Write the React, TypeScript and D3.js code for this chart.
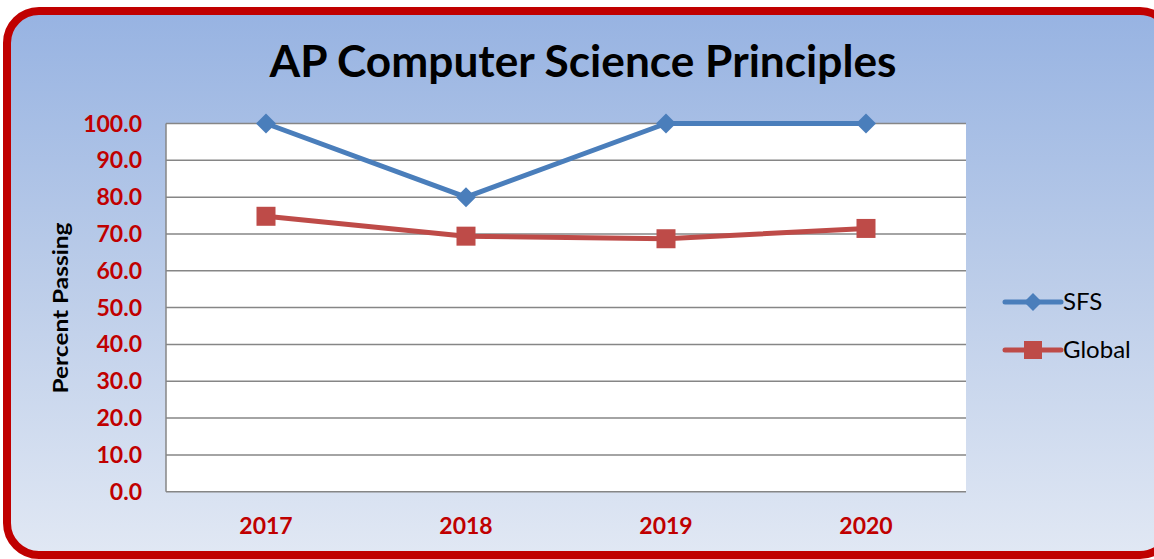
import React from "react";
import * as d3 from "d3";

const categories = ["2017", "2018", "2019", "2020"];
const sfsValues = [100, 80, 100, 100];
const globalValues = [74.8, 69.4, 68.7, 71.5];
const yTicks = [0, 10, 20, 30, 40, 50, 60, 70, 80, 90, 100];
const seriesNames = ["SFS", "Global"];

const W = 1154;
const H = 559;
const plot = { left: 166, right: 966, top: 123.5, bottom: 491.7 };
const FONT = "Lato, Carlito, 'Open Sans', sans-serif";
const RED = "#c00000";
const BLUE = "#4a7ebb";
const DRED = "#be4b48";

export default function App() {
  const x = d3.scaleBand<string>().domain(categories).range([plot.left, plot.right]);
  const y = d3.scaleLinear().domain([0, 100]).range([plot.bottom, plot.top]);
  const cx = (c: string) => (x(c) as number) + x.bandwidth() / 2;
  const line = d3
    .line<number>()
    .x((_, i) => cx(categories[i]))
    .y((d) => y(d));

  const diamond = (px: number, py: number, r: number) =>
    `M${px},${py - r}L${px + r},${py}L${px},${py + r}L${px - r},${py}Z`;

  return (
    <svg
      width={W}
      height={H}
      style={{ position: "absolute", left: 0, top: 0 }}
      fontFamily={FONT}
    >
      <defs>
        <linearGradient id="bg" x1="0" y1="0" x2="0" y2="1">
          <stop offset="0" stopColor="#97b3e2" />
          <stop offset="0.5" stopColor="#bccde9" />
          <stop offset="1" stopColor="#e1e8f4" />
        </linearGradient>
      </defs>
      <rect x={0} y={0} width={W} height={H} fill="#ffffff" />
      <rect
        x={7}
        y={11}
        width={1165}
        height={544}
        rx={32}
        ry={32}
        fill="url(#bg)"
        stroke={RED}
        strokeWidth={8}
      />
      <text
        x={583}
        y={77}
        textAnchor="middle"
        fontSize={44}
        fontWeight="bold"
        fill="#000"
        textLength={627}
        lengthAdjust="spacingAndGlyphs"
      >
        AP Computer Science Principles
      </text>

      <rect
        x={plot.left}
        y={plot.top}
        width={plot.right - plot.left}
        height={plot.bottom - plot.top}
        fill="#ffffff"
      />
      {yTicks.map((t) => (
        <line
          key={t}
          x1={plot.left}
          x2={plot.right}
          y1={y(t)}
          y2={y(t)}
          stroke="#868686"
          strokeWidth={1.5}
        />
      ))}
      <line
        x1={plot.left}
        x2={plot.left}
        y1={plot.top}
        y2={plot.bottom}
        stroke="#868686"
        strokeWidth={1.5}
      />
      {yTicks.map((t) => (
        <text
          key={"l" + t}
          x={142}
          y={y(t)}
          dy="0.35em"
          textAnchor="end"
          fontSize={23}
          fontWeight="bold"
          fill={RED}
        >
          {t.toFixed(1)}
        </text>
      ))}
      {categories.map((c) => (
        <text
          key={c}
          x={cx(c)}
          y={534}
          textAnchor="middle"
          fontSize={23}
          fontWeight="bold"
          fill={RED}
        >
          {c}
        </text>
      ))}
      <text
        transform={`translate(68,308) rotate(-90)`}
        textAnchor="middle"
        fontSize={21}
        fontWeight="bold"
        fill="#000"
        textLength={171}
        lengthAdjust="spacingAndGlyphs"
      >
        Percent Passing
      </text>

      <path d={line(sfsValues) || ""} fill="none" stroke={BLUE} strokeWidth={5} strokeLinejoin="round" />
      <path d={line(globalValues) || ""} fill="none" stroke={DRED} strokeWidth={5} strokeLinejoin="round" />
      {sfsValues.map((v, i) => (
        <path key={"s" + i} d={diamond(cx(categories[i]), y(v), 10)} fill={BLUE} />
      ))}
      {globalValues.map((v, i) => (
        <rect
          key={"g" + i}
          x={cx(categories[i]) - 9.5}
          y={y(v) - 9.5}
          width={19}
          height={19}
          fill={DRED}
        />
      ))}

      {seriesNames.map((n, i) => {
        const ly = 302 + i * 48;
        const col = i === 0 ? BLUE : DRED;
        return (
          <g key={n}>
            <line x1={1005} x2={1061} y1={ly} y2={ly} stroke={col} strokeWidth={5} strokeLinecap="round" />
            {i === 0 ? (
              <path d={diamond(1033, ly, 9)} fill={col} />
            ) : (
              <rect x={1024} y={ly - 9} width={18} height={18} fill={col} />
            )}
            <text x={1063} y={ly} dy="0.35em" fontSize={24} fill="#000">
              {n}
            </text>
          </g>
        );
      })}
    </svg>
  );
}
